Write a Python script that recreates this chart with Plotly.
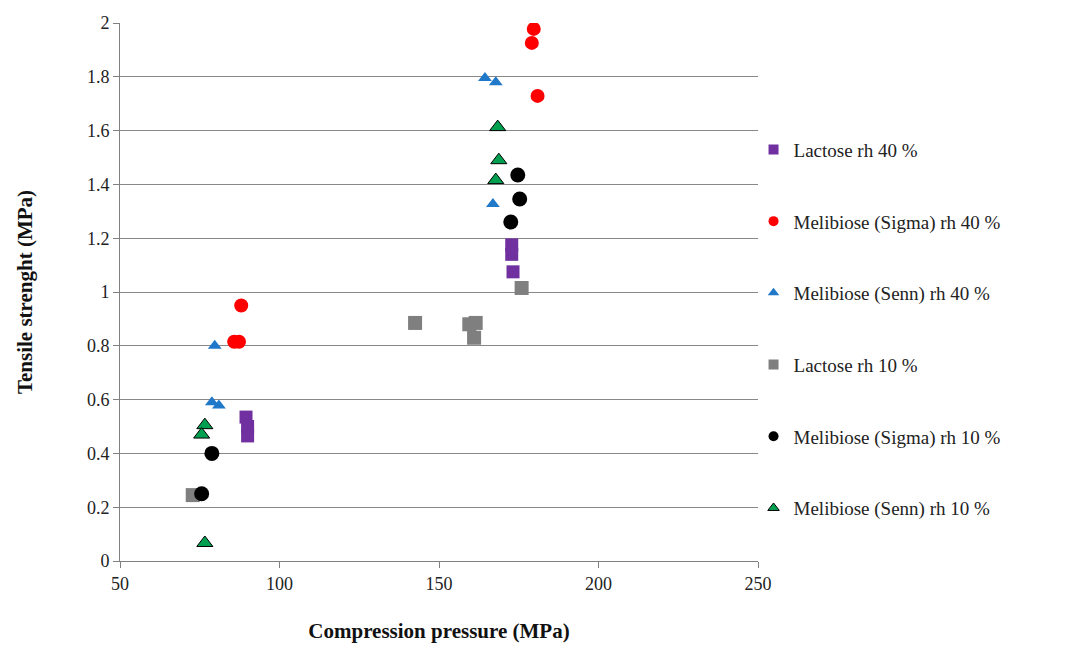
import plotly.graph_objects as go

# Data (Compression pressure MPa, Tensile strength MPa)
lac40_x = [89.5, 90.0, 90.0, 172.8, 172.8, 173.2]
lac40_y = [0.535, 0.50, 0.465, 1.175, 1.14, 1.075]

mel_sig40_x = [88.0, 85.8, 87.3, 179.7, 179.1, 180.9]
mel_sig40_y = [0.95, 0.815, 0.815, 1.978, 1.926, 1.729]

mel_senn40_x = [79.7, 78.8, 81.0, 164.4, 167.8, 166.9]
mel_senn40_y = [0.80, 0.59, 0.578, 1.796, 1.78, 1.327]

lac10_x = [72.8, 142.5, 159.5, 161.5, 161.0, 175.9]
lac10_y = [0.245, 0.885, 0.88, 0.885, 0.83, 1.015]

mel_sig10_x = [78.8, 75.6, 174.7, 175.3, 172.5]
mel_sig10_y = [0.40, 0.25, 1.435, 1.346, 1.26]

mel_senn10_x = [76.6, 75.6, 76.6, 168.4, 168.75, 167.8]
mel_senn10_y = [0.505, 0.47, 0.067, 1.613, 1.49, 1.416]

names = ["Lactose rh 40 %", "Melibiose (Sigma) rh 40 %", "Melibiose (Senn) rh 40 %",
         "Lactose rh 10 %", "Melibiose (Sigma) rh 10 %", "Melibiose (Senn) rh 10 %"]

series = [
    (lac40_x, lac40_y, "square", "#7030A0", 13, None),
    (mel_sig40_x, mel_sig40_y, "circle", "#FF0000", 14, None),
    (mel_senn40_x, mel_senn40_y, "triangle-up", "#1F78C8", 12, None),
    (lac10_x, lac10_y, "square", "#7F7F7F", 14, None),
    (mel_sig10_x, mel_sig10_y, "circle", "#000000", 15, None),
    (mel_senn10_x, mel_senn10_y, "triangle-up", "#00A050", 14, "#000000"),
]

fig = go.Figure()
for i, (xs, ys, sym, col, sz, lc) in enumerate(series):
    mk = dict(symbol=sym, color=col, size=sz,
              line=dict(color=lc if lc else col, width=1 if lc else 0))
    fig.add_trace(go.Scatter(x=xs, y=ys, mode="markers", marker=mk,
                             name=names[i], showlegend=False, hoverinfo="x+y"))
for i, (xs, ys, sym, col, sz, lc) in enumerate(series):
    mk = dict(symbol=sym, color=col, size=10,
              line=dict(color=lc if lc else col, width=1 if lc else 0))
    fig.add_trace(go.Scatter(x=[None], y=[None], mode="markers", marker=mk,
                             name=names[i], legendgroup=f"g{i}", showlegend=True))

serif = "Liberation Serif"
fig.update_layout(
    width=1080, height=650,
    margin=dict(l=120, r=322, t=23, b=87),
    paper_bgcolor="white", plot_bgcolor="white",
    font=dict(family=serif, size=18, color="#222222"),
    legend=dict(x=0.993, y=0.80, xanchor="left", yanchor="top",
                font=dict(family=serif, size=19, color="#222222"),
                tracegroupgap=44, itemwidth=30, bgcolor="rgba(0,0,0,0)"),
    xaxis=dict(range=[50, 250], dtick=50, showgrid=False, zeroline=False,
               showline=True, linecolor="#808080", linewidth=1,
               ticks="outside", ticklen=6, tickcolor="#808080",
               tickfont=dict(family=serif, size=18, color="#222222"),
               title=dict(text="<b>Compression pressure (MPa)</b>",
                          font=dict(family=serif, size=21, color="#111111"), standoff=30)),
    yaxis=dict(range=[0, 2], dtick=0.2, showgrid=True, gridcolor="#888888", gridwidth=1,
               zeroline=False, showline=True, linecolor="#808080", linewidth=1,
               ticks="outside", ticklen=6, tickcolor="#808080",
               tickfont=dict(family=serif, size=18, color="#222222"),
               title=dict(text="<b>Tensile strenght (MPa)</b>",
                          font=dict(family=serif, size=21, color="#111111"), standoff=48)),
)

fig.write_html("out.html")
